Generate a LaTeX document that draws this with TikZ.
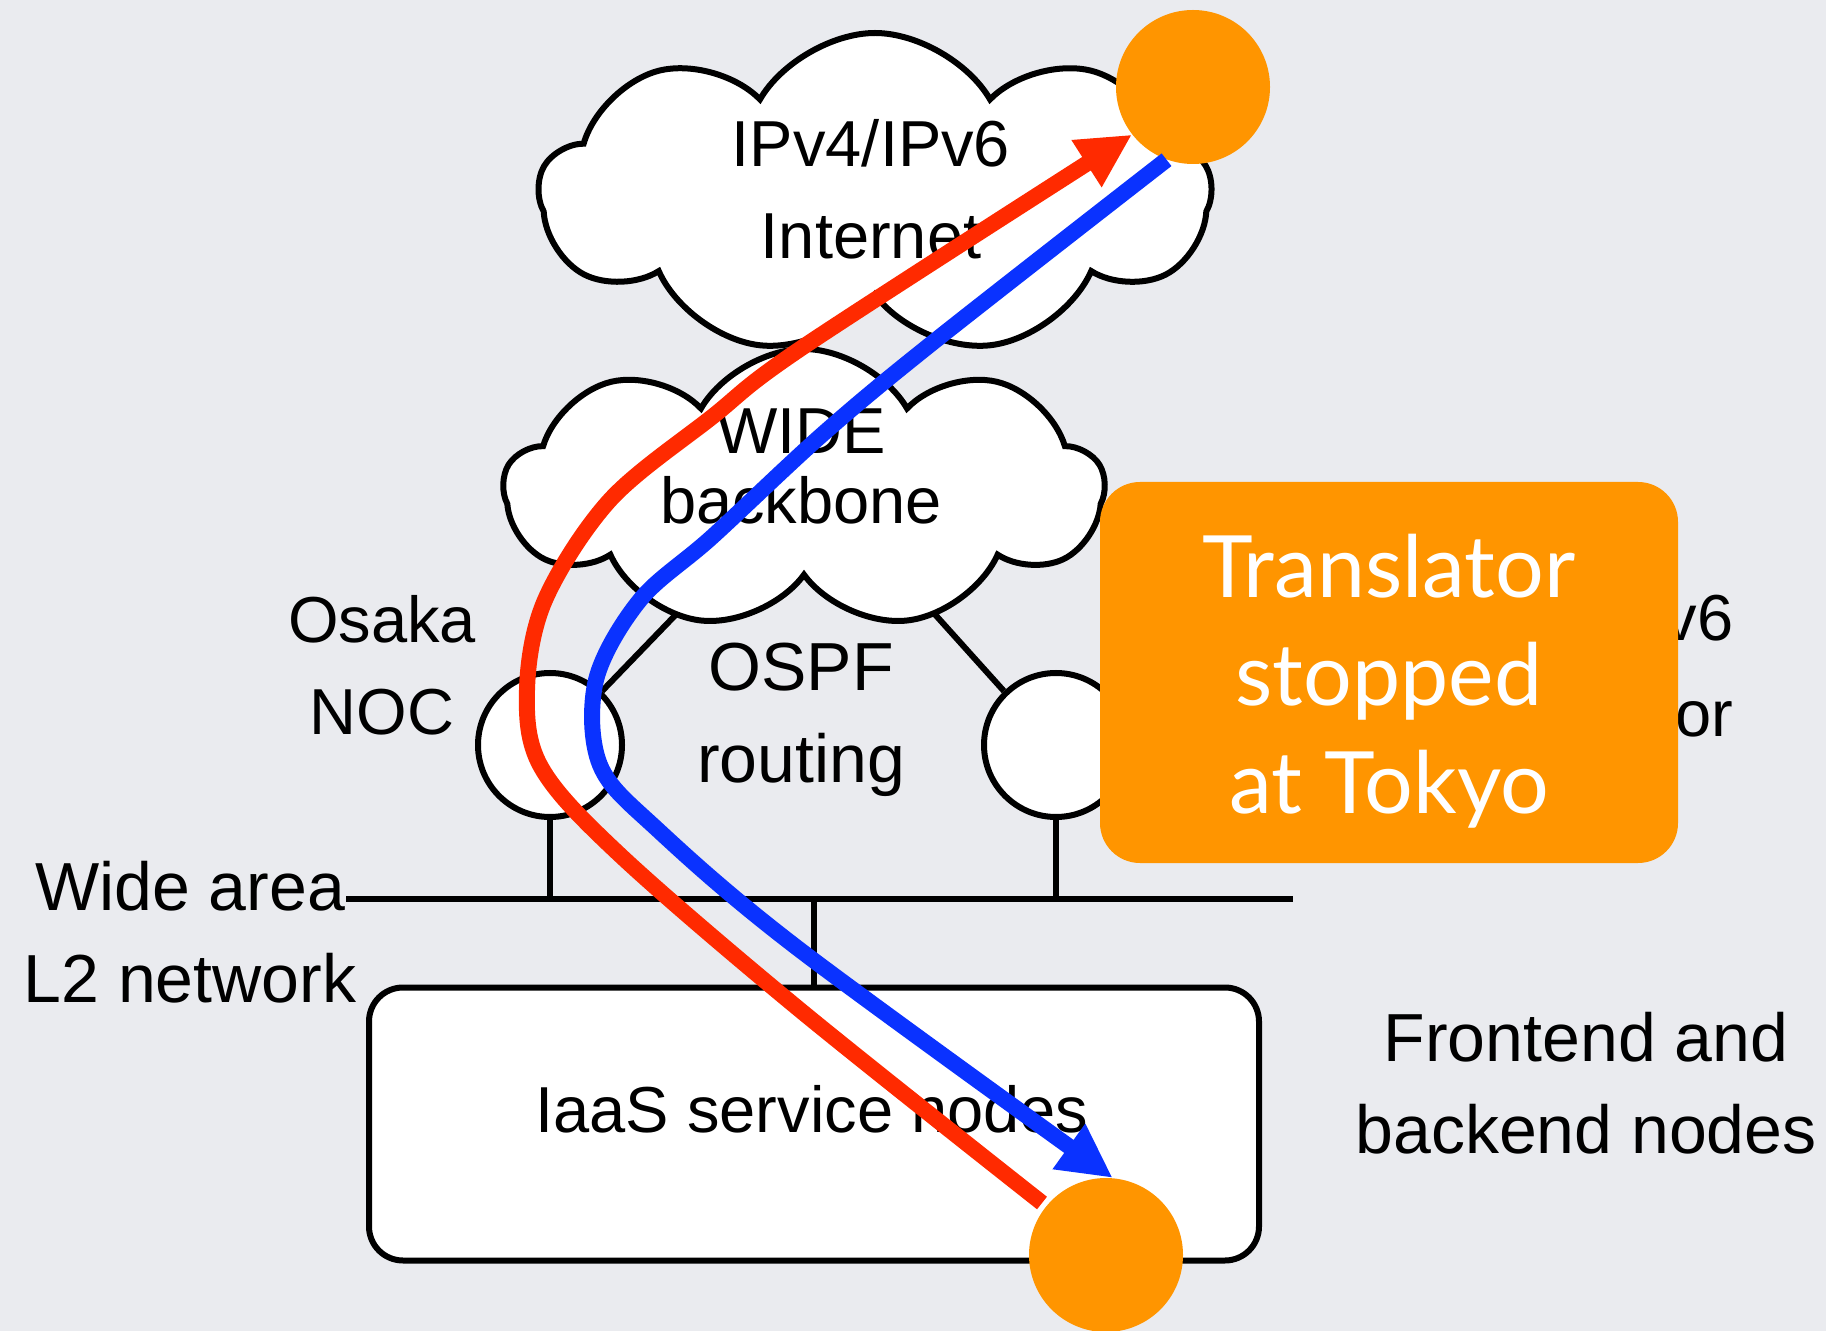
\documentclass[tikz,border=0pt]{standalone}
\usepackage{fontspec}
\setmainfont{Liberation Sans}
\newfontfamily\gillfont{Lato}
\usepackage{tikz}
\usetikzlibrary{arrows.meta,shapes.symbols,positioning}

\definecolor{slidebg}{RGB}{234,235,239}
\definecolor{hostorange}{RGB}{255,149,0}
\definecolor{vfourred}{RGB}{255,42,0}
\definecolor{vsixblue}{RGB}{10,50,255}

\begin{document}
\begin{tikzpicture}[
  x=0.5pt, y=-0.5pt,
  lbl/.style={align=center, inner sep=0pt, font=\fontsize{32.5}{46}\selectfont},
  biglbl/.style={lbl, font=\fontsize{34}{46}\selectfont},
  net/.style={draw, cloud, cloud puffs=9, cloud puff arc=120, aspect=2,
              fill=white, line width=3pt, inner sep=0pt},
  noc/.style={draw, circle, fill=white, line width=3pt, minimum size=72pt, inner sep=0pt},
  host/.style={circle, fill=hostorange, minimum size=77pt, inner sep=0pt},
  svcbox/.style={draw, fill=white, rounded corners=17pt, line width=3pt,
                 minimum width=445pt, minimum height=136.5pt},
  transbox/.style={fill=hostorange, rounded corners=20pt,
                   minimum width=289pt, minimum height=190.5pt},
  transtxt/.style={text=white, align=center, inner sep=0pt,
                   font=\gillfont\fontsize{43}{54}\selectfont},
  wire/.style={line width=3pt},
  arr/.style={-{Triangle[length=27pt,width=26pt]}},
  vfour/.style={draw=vfourred, line width=8pt, line join=round},
  vsix/.style={draw=vsixblue, line width=8pt, line join=round},
]
\fill[slidebg] (0,0) rectangle (1826,1331);
\useasboundingbox (0,0) rectangle (1826,1331);

% routers and their links
\node[noc] (osaka) at (550,745) {};
\node[noc] (tokyo) at (1056,745) {};
\coordinate (wideL) at (690,600);
\coordinate (wideR) at (922,600);
\draw[wire] (osaka.46) -- (wideL);
\draw[wire] (tokyo.134) -- (wideR);

% clouds
\node[net, minimum width=300pt, minimum height=140pt] (wide) at (804,489) {};
\node[net, minimum width=336pt, minimum height=161pt] (inet) at (875,194) {};

% L2 segment and service box
\coordinate (busL) at (346,899);
\coordinate (busR) at (1293,899);
\node[svcbox] (iaas) at (814,1124) {};
\draw[wire] (busL) -- (busR);
\draw[wire] (osaka.south) -- (osaka.south |- busL);
\draw[wire] (tokyo.south) -- (tokyo.south |- busL);
\draw[wire] (iaas.north) -- (iaas.north |- busL);

% labels
\node[lbl] (inettxt) at (871,189) {IPv4/IPv6\\Internet};
\node[lbl, font=\fontsize{32.5}{35}\selectfont] (widetxt) at (801,466) {WIDE\\backbone};
\node[lbl] (osakatxt) at (382,665) {Osaka\\NOC};
\node[biglbl] (ospftxt) at (801,720) {OSPF\\routing};
\node[biglbl] (l2txt) at (190,932) {Wide area\\L2 network};
\node[lbl] (iaastxt) at (812,1109) {IaaS service nodes};
\node[biglbl] (fetxt) at (1586,1083) {Frontend and\\backend nodes};
\node[lbl, anchor=east, align=right, font=\fontsize{32.5}{48}\selectfont] (tokyotxt) at (1734,665) {Tokyo IPv6\\translator};

% end hosts
\node[host] (top) at (1193,87) {};
\node[host] (bot) at (1106,1255) {};

% v4 and v6 flows
\coordinate (vfourstart) at (1042,1203);
\draw[vfour, arr] plot[smooth, tension=0.55] coordinates {(vfourstart) (800,1010) (620,855)
  (541,767) (527,690) (545,600) (610,500) (712,417) (806,345) (top.218)};
\draw[vsix, arr] plot[smooth, tension=0.55] coordinates {(top.250) (936,340) (824,433)
  (712,537) (640,600) (596,680) (600,765) (658,830) (800,950) (bot.85)};

\node[transbox] (trans) at (1389,672.5) {};
\node[transtxt] (transtext) at (1389,681) {Translator\\stopped\\at Tokyo};
\end{tikzpicture}
\end{document}
